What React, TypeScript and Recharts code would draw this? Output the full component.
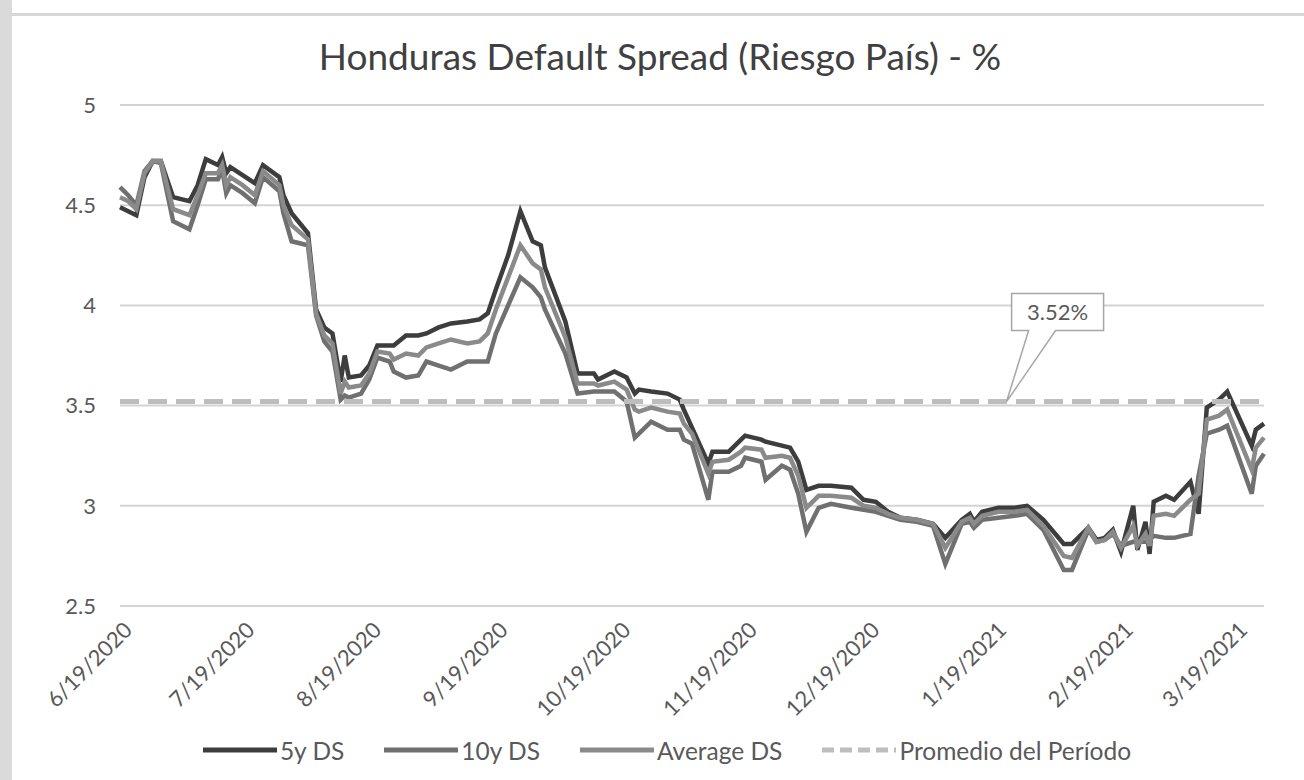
import React from 'react';
import {
  LineChart, Line, XAxis, YAxis, CartesianGrid, Legend, ReferenceLine, ReferenceDot,
} from 'recharts';

// ---------------------------------------------------------------------------
// Data
// ---------------------------------------------------------------------------

const dates = [
  '2020-06-19', '2020-06-21', '2020-06-23', '2020-06-25', '2020-06-27', '2020-06-29',
  '2020-07-02', '2020-07-06', '2020-07-08', '2020-07-10', '2020-07-13', '2020-07-14',
  '2020-07-15', '2020-07-16', '2020-07-19', '2020-07-22', '2020-07-24', '2020-07-28',
  '2020-07-29', '2020-07-31', '2020-08-04', '2020-08-06', '2020-08-08', '2020-08-10',
  '2020-08-12', '2020-08-13', '2020-08-14', '2020-08-17', '2020-08-19', '2020-08-21',
  '2020-08-24', '2020-08-25', '2020-08-28', '2020-08-31', '2020-09-02', '2020-09-05',
  '2020-09-08', '2020-09-12', '2020-09-15', '2020-09-17', '2020-09-19', '2020-09-22',
  '2020-09-25', '2020-09-28', '2020-09-30', '2020-10-01', '2020-10-06', '2020-10-09',
  '2020-10-13', '2020-10-14', '2020-10-18', '2020-10-21', '2020-10-23', '2020-10-24',
  '2020-10-27', '2020-10-31', '2020-11-03', '2020-11-04', '2020-11-06', '2020-11-10',
  '2020-11-11', '2020-11-15', '2020-11-18', '2020-11-19', '2020-11-23', '2020-11-24',
  '2020-11-28', '2020-11-30', '2020-12-02', '2020-12-04', '2020-12-07', '2020-12-10',
  '2020-12-15', '2020-12-18', '2020-12-21', '2020-12-24', '2020-12-27', '2020-12-31',
  '2021-01-04', '2021-01-07', '2021-01-11', '2021-01-13', '2021-01-14', '2021-01-16',
  '2021-01-20', '2021-01-24', '2021-01-27', '2021-01-31', '2021-02-05', '2021-02-07',
  '2021-02-11', '2021-02-13', '2021-02-15', '2021-02-17', '2021-02-19', '2021-02-22',
  '2021-02-23', '2021-02-25', '2021-02-26', '2021-02-27', '2021-03-02', '2021-03-04',
  '2021-03-08', '2021-03-10', '2021-03-12', '2021-03-15', '2021-03-17', '2021-03-23',
  '2021-03-24', '2021-03-26',
];

const ds5y = [
  4.49, 4.47, 4.45, 4.64, 4.72, 4.72,
  4.54, 4.52, 4.60, 4.73, 4.70, 4.74,
  4.66, 4.69, 4.65, 4.61, 4.70, 4.64,
  4.55, 4.46, 4.36, 3.98, 3.89, 3.86,
  3.62, 3.75, 3.64, 3.65, 3.70, 3.80,
  3.80, 3.80, 3.85, 3.85, 3.86, 3.89,
  3.91, 3.92, 3.93, 3.96, 4.08, 4.25,
  4.47, 4.32, 4.30, 4.19, 3.92, 3.66,
  3.66, 3.63, 3.67, 3.64, 3.56, 3.58,
  3.57, 3.56, 3.53, 3.48, 3.39, 3.21,
  3.27, 3.27, 3.33, 3.35, 3.33, 3.32,
  3.30, 3.29, 3.22, 3.08, 3.10, 3.10,
  3.09, 3.03, 3.02, 2.97, 2.94, 2.93,
  2.91, 2.84, 2.93, 2.96, 2.92, 2.97,
  2.99, 2.99, 3.00, 2.93, 2.81, 2.81,
  2.89, 2.83, 2.84, 2.88, 2.77, 3.00,
  2.78, 2.92, 2.76, 3.02, 3.05, 3.03,
  3.12, 2.96, 3.49, 3.53, 3.57, 3.30,
  3.38, 3.41,
];

const ds10y = [
  4.59, 4.55, 4.50, 4.67, 4.72, 4.71,
  4.42, 4.38, 4.50, 4.63, 4.63, 4.68,
  4.56, 4.60, 4.56, 4.51, 4.64, 4.57,
  4.46, 4.32, 4.30, 3.95, 3.82, 3.77,
  3.53, 3.55, 3.54, 3.56, 3.63, 3.74,
  3.72, 3.67, 3.64, 3.65, 3.72, 3.70,
  3.68, 3.72, 3.72, 3.72, 3.86, 4.00,
  4.14, 4.09, 4.04, 3.98, 3.76, 3.56,
  3.57, 3.57, 3.57, 3.52, 3.34, 3.36,
  3.42, 3.38, 3.38, 3.33, 3.31, 3.03,
  3.17, 3.17, 3.20, 3.24, 3.22, 3.13,
  3.20, 3.18, 3.06, 2.87, 2.99, 3.01,
  2.99, 2.98, 2.97, 2.95, 2.93, 2.92,
  2.90, 2.71, 2.91, 2.92, 2.89, 2.93,
  2.94, 2.95, 2.96, 2.88, 2.68, 2.68,
  2.88, 2.82, 2.83, 2.86, 2.80, 2.82,
  2.82, 2.82, 2.83, 2.85, 2.84, 2.84,
  2.86, 3.15, 3.36, 3.38, 3.40, 3.06,
  3.20, 3.26,
];

const dsAvg = [
  4.54, 4.52, 4.48, 4.66, 4.72, 4.72,
  4.48, 4.45, 4.55, 4.66, 4.66, 4.70,
  4.60, 4.64, 4.60, 4.55, 4.67, 4.60,
  4.50, 4.40, 4.33, 3.96, 3.85, 3.81,
  3.56, 3.62, 3.59, 3.60, 3.66, 3.77,
  3.76, 3.73, 3.76, 3.75, 3.79, 3.81,
  3.83, 3.81, 3.82, 3.86, 3.98, 4.14,
  4.30, 4.21, 4.18, 4.09, 3.84, 3.61,
  3.61, 3.60, 3.62, 3.58, 3.48, 3.47,
  3.49, 3.47, 3.46, 3.41, 3.36, 3.16,
  3.22, 3.23, 3.27, 3.29, 3.28, 3.24,
  3.25, 3.24, 3.15, 2.99, 3.05, 3.05,
  3.04, 3.00, 2.99, 2.96, 2.94, 2.93,
  2.91, 2.79, 2.92, 2.94, 2.91, 2.95,
  2.97, 2.97, 2.98, 2.90, 2.75, 2.74,
  2.89, 2.82, 2.83, 2.87, 2.79, 2.90,
  2.80, 2.86, 2.80, 2.95, 2.96, 2.95,
  3.03, 3.06, 3.43, 3.45, 3.48, 3.18,
  3.29, 3.34,
];

const promedio = 3.52;
const calloutDate = '2021-01-22';

const xTickDates = [
  '2020-06-19', '2020-07-19', '2020-08-19', '2020-09-19', '2020-10-19',
  '2020-11-19', '2020-12-19', '2021-01-19', '2021-02-19', '2021-03-19',
];
const yTicks = [2.5, 3, 3.5, 4, 4.5, 5];

// ---------------------------------------------------------------------------
// Helpers
// ---------------------------------------------------------------------------

const FONT = 'Lato, "DejaVu Sans", sans-serif';
const TEXT = '#595959';

const toTs = (s: string) => {
  const [y, m, d] = s.split('-').map(Number);
  return Date.UTC(y, m - 1, d);
};

const fmtDate = (t: number) => {
  const d = new Date(t);
  return `${d.getUTCMonth() + 1}/${d.getUTCDate()}/${d.getUTCFullYear()}`;
};

const data = dates.map((d, i) => ({
  t: toTs(d),
  ds5: ds5y[i],
  ds10: ds10y[i],
  avg: dsAvg[i],
}));

const SERIES = [
  { key: 'ds5', name: '5y DS', color: '#3d3d3d' },
  { key: 'ds10', name: '10y DS', color: '#707070' },
  { key: 'avg', name: 'Average DS', color: '#8a8a8a' },
];
const PROM_COLOR = '#bdbdbd';

// ---------------------------------------------------------------------------
// Custom pieces
// ---------------------------------------------------------------------------

function DateTick(props: any) {
  const { x, y, payload } = props;
  return (
    <g transform={`translate(${x + 8},${y + 18})`}>
      <text
        textAnchor="end"
        transform="rotate(-45)"
        dy="0.35em"
        fontSize={22}
        fill={TEXT}
        fontFamily={FONT}
      >
        {fmtDate(payload.value)}
      </text>
    </g>
  );
}

function Callout(props: any) {
  const { cx, cy } = props;
  const l = cx + 5, r = cx + 97, t = cy - 108, b = cy - 71;
  const d = `M${l},${t} H${r} V${b} H${cx + 49} L${cx},${cy} L${cx + 22},${b} H${l} Z`;
  return (
    <g>
      <path d={d} fill="#ffffff" stroke="#a6a6a6" strokeWidth={1.5} />
      <text
        x={(l + r) / 2}
        y={(t + b) / 2}
        dy="0.35em"
        textAnchor="middle"
        fontSize={22}
        fill={TEXT}
        fontFamily={FONT}
      >
        {promedio.toFixed(2)}%
      </text>
    </g>
  );
}

function LegendContent() {
  const items = [
    ...SERIES.map((s) => ({ name: s.name, color: s.color, dash: undefined as string | undefined })),
    { name: 'Promedio del Período', color: PROM_COLOR, dash: '12 6' },
  ];
  return (
    <div
      style={{
        display: 'flex', justifyContent: 'center', alignItems: 'center',
        height: 44, paddingLeft: 30, gap: 40, fontFamily: FONT,
      }}
    >
      {items.map((it) => (
        <div key={it.name} style={{ display: 'flex', alignItems: 'center' }}>
          <svg width={74} height={10}>
            <line
              x1={0} y1={5} x2={74} y2={5}
              stroke={it.color} strokeWidth={5}
              strokeDasharray={it.dash}
            />
          </svg>
          <span style={{ marginLeft: 3, fontSize: 24.5, color: TEXT }}>{it.name}</span>
        </div>
      ))}
    </div>
  );
}

// ---------------------------------------------------------------------------
// Component
// ---------------------------------------------------------------------------

export default function App() {
  return (
    <div
      style={{
        position: 'absolute', left: 0, top: 0, width: 1304, height: 780,
        background: '#ffffff', overflow: 'hidden',
      }}
    >
      {/* scanned frame edges */}
      <div style={{ position: 'absolute', left: 0, top: 0, width: 12, height: 780, background: '#dadada' }} />
      <div style={{ position: 'absolute', left: 12, top: 13, width: 1292, height: 3, background: '#d6d6d6' }} />

      <div
        style={{
          position: 'absolute', left: 0, top: 33, width: 1320, textAlign: 'center',
          fontFamily: FONT, fontSize: 37, color: '#404040',
        }}
      >
        Honduras Default Spread (Riesgo País) - %
      </div>

      <LineChart
        width={1304}
        height={780}
        data={data}
        margin={{ top: 105, right: 40, left: 0, bottom: 8 }}
      >
        <CartesianGrid vertical={false} stroke="#d4d4d4" strokeWidth={2} />
        <XAxis
          dataKey="t"
          type="number"
          scale="time"
          domain={[toTs(dates[0]), toTs(dates[dates.length - 1])]}
          ticks={xTickDates.map(toTs)}
          interval={0}
          tick={<DateTick />}
          axisLine={false}
          tickLine={false}
          tickSize={0}
          height={122}
        />
        <YAxis
          domain={[2.5, 5]}
          ticks={yTicks}
          interval={0}
          width={120}
          axisLine={false}
          tickLine={false}
          tickSize={0}
          tickMargin={24}
          tick={{ fontSize: 22, fill: TEXT, fontFamily: FONT }}
        />
        <Legend
          verticalAlign="bottom"
          height={44}
          content={<LegendContent />}
          wrapperStyle={{ left: 0, width: 1304 }}
        />
        {SERIES.map((s) => (
          <Line
            key={s.key}
            type="linear"
            dataKey={s.key}
            name={s.name}
            stroke={s.color}
            strokeWidth={4.5}
            dot={false}
            isAnimationActive={false}
          />
        ))}
        <ReferenceLine y={promedio} stroke={PROM_COLOR} strokeWidth={5} strokeDasharray="19 9" />
        <ReferenceDot x={toTs(calloutDate)} y={promedio} shape={(p: any) => <Callout {...p} />} />
      </LineChart>
    </div>
  );
}
